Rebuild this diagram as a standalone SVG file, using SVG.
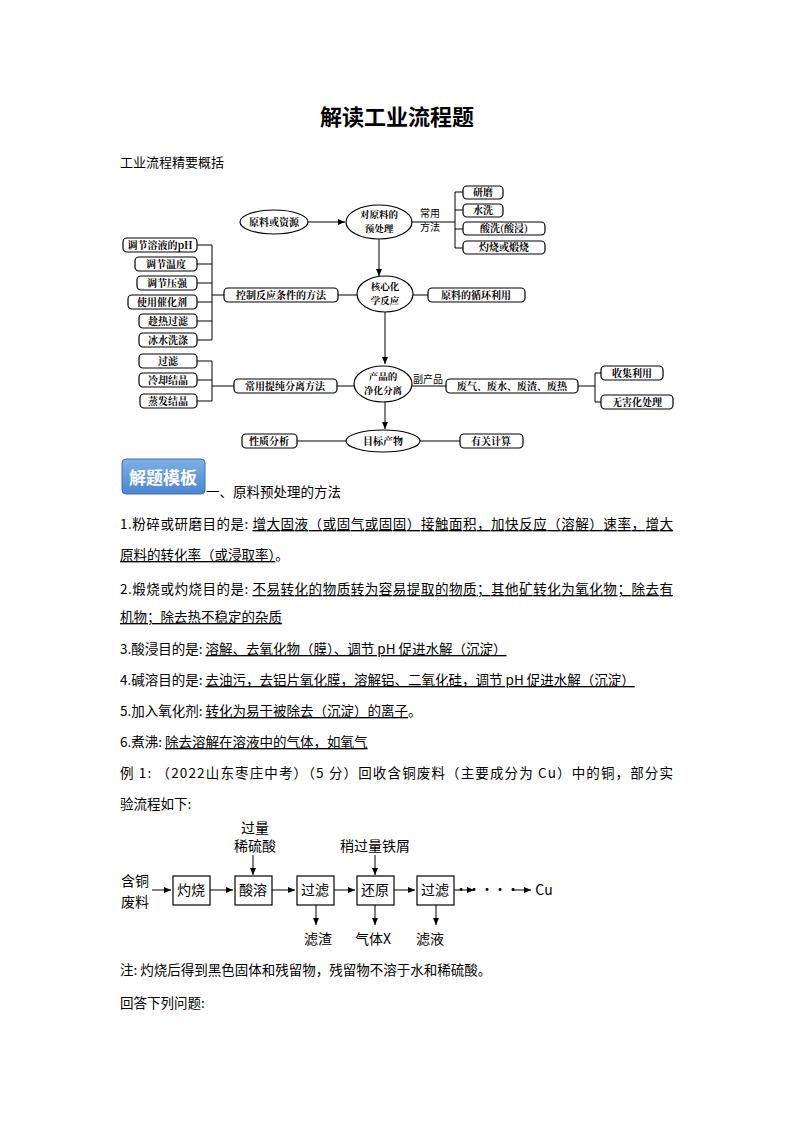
<svg xmlns="http://www.w3.org/2000/svg" width="794" height="1123" viewBox="0 0 794 1123">
<style>
text{font-family:"Noto Sans CJK SC","Noto Sans",sans-serif;fill:#000}
.n rect,.n ellipse{fill:#fff;stroke:#000;stroke-width:1.2}
.n text{font-size:10px;text-anchor:middle;font-family:"Noto Serif CJK SC","Noto Sans CJK SC",serif;font-weight:bold}
.n text.s{font-size:9.5px}
.c line,.c polyline,.c path{stroke:#000;stroke-width:1;fill:none}
.b text{font-size:14px;text-anchor:middle}
.b rect{fill:#fff;stroke:#000;stroke-width:1.2}
.t{font-size:13.5px}
.u{text-decoration:underline}
</style>
<defs>
<marker id="a" markerWidth="8" markerHeight="8" refX="7" refY="4" orient="auto" markerUnits="userSpaceOnUse"><path d="M0,1 L7,4 L0,7 z" fill="#000"/></marker>
<linearGradient id="bg" x1="0" y1="0" x2="0" y2="1"><stop offset="0" stop-color="#7fb0e8"/><stop offset="1" stop-color="#4a86d0"/></linearGradient>
</defs>
<text x="397" y="125" font-size="22" font-weight="bold" text-anchor="middle" font-family="Noto Serif CJK SC,Noto Sans CJK SC,serif">解读工业流程题</text>
<text x="120" y="167" font-size="13">工业流程精要概括</text>

<g class="c">
<line x1="308" y1="222" x2="345" y2="222" marker-end="url(#a)"/>
<line x1="412" y1="222" x2="455" y2="222"/>
<polyline points="463,192 455,192 455,248 463,248"/>
<line x1="455" y1="210" x2="463" y2="210"/>
<line x1="455" y1="229" x2="463" y2="229"/>
<line x1="379" y1="239" x2="379" y2="276" marker-end="url(#a)"/>
<line x1="338" y1="295" x2="357" y2="295"/>
<line x1="413" y1="295" x2="428" y2="295"/>
<line x1="212" y1="295" x2="224" y2="295"/>
<polyline points="197,245 212,245 212,340 197,340"/>
<line x1="197" y1="264" x2="212" y2="264"/>
<line x1="197" y1="283" x2="212" y2="283"/>
<line x1="197" y1="302" x2="212" y2="302"/>
<line x1="197" y1="321" x2="212" y2="321"/>
<line x1="385" y1="312" x2="385" y2="364" marker-end="url(#a)"/>
<line x1="337" y1="386" x2="354" y2="386"/>
<polyline points="197,361 212,361 212,401 197,401"/>
<line x1="197" y1="380" x2="212" y2="380"/>
<line x1="212" y1="386" x2="234" y2="386"/>
<line x1="412" y1="386" x2="446" y2="386"/>
<line x1="578" y1="386" x2="595" y2="386"/>
<polyline points="601,373 595,373 595,402 601,402"/>
<line x1="385" y1="402" x2="385" y2="429" marker-end="url(#a)"/>
<line x1="297" y1="441" x2="346" y2="441"/>
<line x1="420" y1="441" x2="460" y2="441"/>
</g>
<text x="430" y="217" font-size="10" text-anchor="middle">常用</text>
<text x="430" y="231" font-size="10" text-anchor="middle">方法</text>
<text x="428" y="383" font-size="10" text-anchor="middle">副产品</text>

<g class="n" id="n1"><ellipse cx="274" cy="222" rx="34" ry="12"/><text x="274" y="226">原料或资源</text></g>
<g class="n" id="n2"><ellipse cx="379" cy="222" rx="33" ry="17"/><text class="s" x="379" y="218">对原料的</text><text class="s" x="379" y="232">预处理</text></g>
<g class="n" id="m1"><rect x="463" y="186" width="40" height="13" rx="4"/><text x="483" y="196">研磨</text></g>
<g class="n" id="m2"><rect x="463" y="204" width="40" height="13" rx="4"/><text x="483" y="214">水洗</text></g>
<g class="n" id="m3"><rect x="463" y="222" width="82" height="13" rx="4"/><text x="504" y="232">酸洗(酸浸)</text></g>
<g class="n" id="m4"><rect x="463" y="241" width="82" height="13" rx="4"/><text x="504" y="251">灼烧或煅烧</text></g>
<g class="n" id="n3"><ellipse cx="385" cy="294" rx="28" ry="18"/><text class="s" x="385" y="290">核心化</text><text class="s" x="385" y="304">学反应</text></g>
<g class="n" id="c0"><rect x="224" y="288" width="114" height="14" rx="4"/><text x="281" y="299">控制反应条件的方法</text></g>
<g class="n" id="c7"><rect x="428" y="288" width="97" height="14" rx="4"/><text x="476" y="299">原料的循环利用</text></g>
<g class="n" id="c1"><rect x="123" y="238" width="74" height="14" rx="4"/><text x="160" y="249">调节溶液的pH</text></g>
<g class="n" id="c2"><rect x="135" y="257" width="62" height="14" rx="4"/><text x="166" y="268">调节温度</text></g>
<g class="n" id="c3"><rect x="137" y="276" width="60" height="14" rx="4"/><text x="167" y="287">调节压强</text></g>
<g class="n" id="c4"><rect x="128" y="295" width="69" height="14" rx="4"/><text x="162" y="306">使用催化剂</text></g>
<g class="n" id="c5"><rect x="139" y="314" width="58" height="14" rx="4"/><text x="168" y="325">趁热过滤</text></g>
<g class="n" id="c6"><rect x="139" y="333" width="58" height="14" rx="4"/><text x="168" y="344">冰水洗涤</text></g>
<g class="n" id="n4"><ellipse cx="383" cy="384" rx="29" ry="18"/><text class="s" x="383" y="380">产品的</text><text class="s" x="383" y="394">净化分离</text></g>
<g class="n" id="p0"><rect x="234" y="379" width="103" height="14" rx="4"/><text x="285" y="390">常用提纯分离方法</text></g>
<g class="n" id="p1"><rect x="139" y="354" width="58" height="14" rx="4"/><text x="168" y="365">过滤</text></g>
<g class="n" id="p2"><rect x="139" y="373" width="58" height="14" rx="4"/><text x="168" y="384">冷却结晶</text></g>
<g class="n" id="p3"><rect x="140" y="394" width="57" height="14" rx="4"/><text x="168" y="405">蒸发结晶</text></g>
<g class="n" id="w0"><rect x="446" y="379" width="132" height="14" rx="4"/><text x="512" y="390">废气、废水、废渣、废热</text></g>
<g class="n" id="w1"><rect x="601" y="366" width="62" height="14" rx="4"/><text x="632" y="377">收集利用</text></g>
<g class="n" id="w2"><rect x="601" y="395" width="72" height="14" rx="4"/><text x="637" y="406">无害化处理</text></g>
<g class="n" id="n5"><ellipse cx="383" cy="441" rx="37" ry="11"/><text x="383" y="445">目标产物</text></g>
<g class="n" id="q1"><rect x="242" y="434" width="55" height="14" rx="4"/><text x="269" y="445">性质分析</text></g>
<g class="n" id="q2"><rect x="460" y="434" width="63" height="14" rx="4"/><text x="491" y="445">有关计算</text></g>

<g id="banner"><rect x="122" y="459" width="83" height="35" rx="4" fill="url(#bg)" stroke="#3a70b8"/><text x="163" y="484" font-size="17" font-weight="bold" text-anchor="middle" style="fill:#fff">解题模板</text></g>
<text class="t" x="206" y="497">一、原料预处理的方法</text>
<text class="t" x="120" y="529" textLength="553">1.粉碎或研磨目的是: <tspan class="u">增大固液（或固气或固固）接触面积，加快反应（溶解）速率，增大</tspan></text>
<text class="t" x="120" y="560"><tspan class="u">原料的转化率（或浸取率）</tspan>。</text>
<text class="t" x="120" y="594" textLength="553">2.煅烧或灼烧目的是: <tspan class="u">不易转化的物质转为容易提取的物质；其他矿转化为氧化物；除去有</tspan></text>
<text class="t" x="120" y="622"><tspan class="u">机物；除去热不稳定的杂质</tspan></text>
<text class="t" x="120" y="654">3.酸浸目的是: <tspan class="u">溶解、去氧化物（膜）、调节 pH 促进水解（沉淀）</tspan></text>
<text class="t" x="120" y="685">4.碱溶目的是: <tspan class="u">去油污，去铝片氧化膜，溶解铝、二氧化硅，调节 pH 促进水解（沉淀）</tspan></text>
<text class="t" x="120" y="716">5.加入氧化剂: <tspan class="u">转化为易于被除去（沉淀）的离子</tspan>。</text>
<text class="t" x="120" y="747">6.煮沸: <tspan class="u">除去溶解在溶液中的气体，如氧气</tspan></text>
<text class="t" x="120" y="778" textLength="553">例 1: （2022山东枣庄中考）（5 分）回收含铜废料（主要成分为 Cu）中的铜，部分实</text>
<text class="t" x="120" y="809">验流程如下:</text>

<g class="c">
<line x1="152" y1="890" x2="171" y2="890" marker-end="url(#a)"/>
<line x1="210" y1="890" x2="233" y2="890" marker-end="url(#a)"/>
<line x1="272" y1="890" x2="295" y2="890" marker-end="url(#a)"/>
<line x1="334" y1="890" x2="355" y2="890" marker-end="url(#a)"/>
<line x1="394" y1="890" x2="415" y2="890" marker-end="url(#a)"/>
<line x1="454" y1="890" x2="474" y2="890" marker-end="url(#a)"/>
<line x1="512" y1="890" x2="531" y2="890" marker-end="url(#a)"/>
<line x1="253" y1="855" x2="253" y2="875" marker-end="url(#a)"/>
<line x1="375" y1="855" x2="375" y2="875" marker-end="url(#a)"/>
<line x1="316" y1="905" x2="316" y2="925" marker-end="url(#a)"/>
<line x1="375" y1="905" x2="375" y2="925" marker-end="url(#a)"/>
<line x1="436" y1="905" x2="436" y2="925" marker-end="url(#a)"/>
</g>
<g class="b">
<text x="135" y="886">含铜</text><text x="135" y="907">废料</text>
<g id="f1"><rect x="173" y="876" width="37" height="29"/><text x="191" y="895">灼烧</text></g>
<g id="f2"><rect x="235" y="876" width="37" height="29"/><text x="253" y="895">酸溶</text></g>
<g id="f3"><rect x="297" y="876" width="37" height="29"/><text x="315" y="895">过滤</text></g>
<g id="f4"><rect x="357" y="876" width="37" height="29"/><text x="375" y="895">还原</text></g>
<g id="f5"><rect x="417" y="876" width="37" height="29"/><text x="435" y="895">过滤</text></g>
<text x="493" y="894" font-family="Liberation Serif,serif" letter-spacing="-1">······</text>
<text x="544" y="895" font-family="Liberation Serif,serif">Cu</text>
<text x="255" y="833">过量</text><text x="255" y="851">稀硫酸</text>
<text x="375" y="851">稍过量铁屑</text>
<text x="318" y="944">滤渣</text>
<text x="373" y="944">气体X</text>
<text x="430" y="944">滤液</text>
</g>
<text class="t" x="120" y="975">注: 灼烧后得到黑色固体和残留物，残留物不溶于水和稀硫酸。</text>
<text class="t" x="120" y="1008">回答下列问题:</text>
</svg>
